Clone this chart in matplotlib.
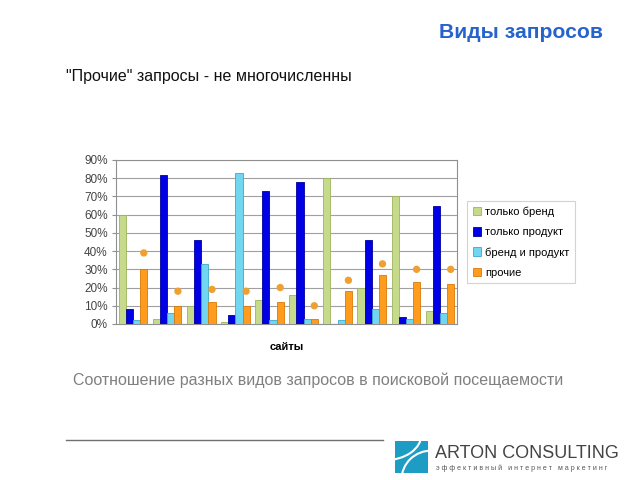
import numpy as np
import matplotlib
matplotlib.use("Agg")
import matplotlib.pyplot as plt
from matplotlib.patches import Rectangle, Arc

plt.rcParams['font.family'] = ['Liberation Sans', 'DejaVu Sans']

# Shares of query types per site (percent)
series_names = ["только бренд", "только продукт", "бренд и продукт", "прочие"]
brand_only = [60, 3, 10, 1, 13, 16, 80, 20, 70, 7]
product_only = [8, 82, 46, 5, 73, 78, 0, 46, 4, 65]
brand_product = [2, 6, 33, 83, 2, 3, 2, 8, 3, 6]
other = [30, 10, 12, 10, 12, 3, 18, 27, 23, 22]
other_dots = [39, 18, 19, 18, 20, 10, 24, 33, 30, 30]

colors = ["#c6da8c", "#0000e6", "#70d6f2", "#ff9c1e"]
edges = ["#9fb35e", "#00009a", "#3fa8c8", "#d87a08"]

fig = plt.figure(figsize=(6.4, 4.8), dpi=100)

# Header texts
fig.text(603/640, 1-33/480, "Виды запросов", ha="right", va="center",
         fontsize=15.2, fontweight="bold", color="#2763cc")
fig.text(66/640, 1-77/480, '"Прочие" запросы - не многочисленны', ha="left",
         va="center", fontsize=11.5, color="#111111")

# Chart
ax = fig.add_axes([116/640, 1-324/480, 341/640, 164/480])
n = len(brand_only)
x = np.arange(n)
w = 0.21
data = [brand_only, product_only, brand_product, other]
for k, vals in enumerate(data):
    ax.bar(x + (k-1.5)*w, np.array(vals)/100, width=w, color=colors[k],
           edgecolor=edges[k], linewidth=0.6, label=series_names[k], zorder=3)
ax.scatter(x + 1.5*w, np.array(other_dots)/100, s=28, color="#f0a030",
           zorder=4, edgecolors="none")

ax.set_xlim(-0.5, n-0.5)
ax.set_ylim(0, 0.9)
ax.set_yticks(np.arange(0, 0.91, 0.1))
ax.set_yticklabels([f"{int(round(v*100))}%" for v in np.arange(0, 0.91, 0.1)],
                   fontsize=8.5, color="#444444")
ax.set_xticks([])
ax.yaxis.grid(True, color="#a0a0a0", linewidth=0.8, zorder=0)
for s in ax.spines.values():
    s.set_color("#909090")
    s.set_linewidth(0.8)
ax.tick_params(axis="y", length=3, color="#909090", pad=3)
ax.set_xlabel("сайты", fontsize=8, fontweight="bold", labelpad=13)

leg = fig.legend(*ax.get_legend_handles_labels(), loc="upper left",
                 bbox_to_anchor=(467/640, 1-201/480), fontsize=8,
                 frameon=True, fancybox=False, edgecolor="#c8c8c8",
                 handlelength=0.8, handleheight=0.8, handletextpad=0.3,
                 labelspacing=0.9, borderpad=0.5, borderaxespad=0)
leg.get_frame().set_linewidth(0.8)

# Caption
fig.text(318/640, 1-380/480,
         "Соотношение разных видов запросов в поисковой посещаемости",
         ha="center", va="center", fontsize=11.5, color="#808080")

# Footer line
fig.add_artist(plt.Line2D([66/640, 383/640], [1-440/480, 1-440/480],
                          color="#707070", linewidth=1))

# Logo
logo = fig.add_axes([395/640, 1-473/480, 33/640, 32/480])
logo.set_xlim(0, 1)
logo.set_ylim(0, 1)
logo.axis("off")
logo.add_patch(Rectangle((0, 0), 1, 1, color="#1d9cc4"))
logo.add_patch(Arc((1.1, -0.2), 1.8, 1.8, theta1=90, theta2=180,
                   color="white", linewidth=1.5))
logo.add_patch(Arc((-0.3, 1.2), 2.2, 1.6, theta1=270, theta2=360,
                   color="white", linewidth=1.5))
fig.text(435/640, 1-453/480, "ARTON CONSULTING", ha="left", va="center",
         fontsize=13, color="#444444")
fig.text(436/640, 1-468/480, "э ф ф е к т и в н ы й   и н т е р н е т   м а р к е т и н г",
         ha="left", va="center", fontsize=5.0, color="#555555")

fig.savefig("out.png", dpi=100)
